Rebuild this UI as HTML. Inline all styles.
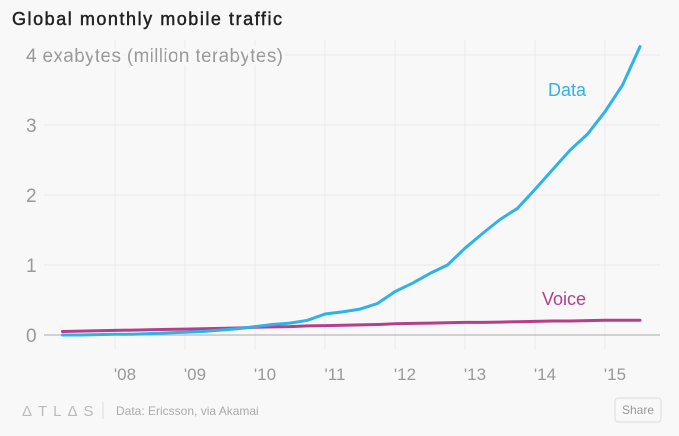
<!DOCTYPE html>
<html><head><meta charset="utf-8"><style>
body{margin:0;background:#f8f8f8;font-family:"Liberation Sans",sans-serif;}
#wrap{position:relative;width:679px;height:436px;overflow:hidden;background:#f8f8f8;}
</style></head><body>
<div id="wrap">
<svg id="chart" width="679" height="436">
<text x="12" y="25" font-size="18" fill="#222" stroke="#222" stroke-width="0.45" textLength="270">Global monthly mobile traffic</text>
<g id="grid"></g><g id="series"></g>
<text x="548" y="96" font-size="18" fill="#2fb2e8">Data</text>
<text x="542" y="305" font-size="18" fill="#b43f8a">Voice</text>
<g>
<text x="22" y="416" font-size="15" fill="#bbb" letter-spacing="6">ΔTLΔS</text>
<line x1="103" y1="402" x2="103" y2="419" stroke="#ddd"/>
<text x="116" y="415" font-size="12" fill="#aaa">Data: Ericsson, via Akamai</text>
<rect x="615" y="398" width="46" height="24" rx="3" fill="#f8f8f8" stroke="#ddd"/>
<text x="638" y="414" font-size="12" fill="#999" text-anchor="middle">Share</text>
</g>
</svg>
</div>
<script>
const yearTicks=[2008,2009,2010,2011,2012,2013,2014,2015];
const yearLabels=["'08","'09","'10","'11","'12","'13","'14","'15"];
const yTicks=[0,1,2,3,4];
const yLabels=["0","1","2","3","4 exabytes (million terabytes)"];
const dataValues=[0.0,0.0,0.005,0.01,0.01,0.02,0.03,0.04,0.05,0.07,0.09,0.12,0.15,0.17,0.21,0.30,0.33,0.37,0.45,0.62,0.74,0.88,1.0,1.24,1.45,1.65,1.81,2.08,2.36,2.64,2.87,3.19,3.57,4.12];
const voiceValues=[0.05,0.055,0.06,0.065,0.07,0.075,0.08,0.085,0.09,0.095,0.10,0.11,0.115,0.12,0.13,0.135,0.14,0.145,0.15,0.16,0.165,0.17,0.175,0.18,0.18,0.185,0.19,0.195,0.20,0.20,0.205,0.21,0.21,0.21];
const startYear=2007.25, stepYear=0.25;
const X=t=>45+70*(t-2007);
const Y=v=>335-70*v;
const NS="http://www.w3.org/2000/svg";
const grid=document.getElementById('grid'), ser=document.getElementById('series');
function mk(tag,attrs,parent){const e=document.createElementNS(NS,tag);for(const k in attrs)e.setAttribute(k,attrs[k]);parent.appendChild(e);return e;}
yearTicks.forEach((yr,i)=>{
  const l=mk('line',{x1:X(yr),x2:X(yr),y1:40,y2:350,stroke:'#ebebeb'},grid);
  
  
  const t=mk('text',{x:X(yr)+10,y:380,'font-size':17,fill:'#999','text-anchor':'middle'},grid);
  t.textContent=yearLabels[i];
  
  
});
yTicks.forEach((v,i)=>{
  if(v>0){const l=mk('line',{x1:44,x2:660,y1:Y(v),y2:Y(v),stroke:'#e8e8e8'},grid);
  
  }
  const attrs={x:26,y:Y(v)+7,'font-size':19,fill:'#999'};
  if(v===4)attrs.textLength=257;
  const t=mk('text',attrs,grid);
  if(v===4){t.setAttribute('paint-order','stroke');t.setAttribute('stroke','#f8f8f8');t.setAttribute('stroke-width','6');}
  t.textContent=yLabels[i];
  
  
});
const base=mk('line',{x1:44,x2:660,y1:Y(0),y2:Y(0),stroke:'#aaa'},grid);


function path(vals){return vals.map((v,i)=>(i?'L':'M')+X(startYear+i*stepYear).toFixed(1)+','+Y(v).toFixed(1)).join('');}
const pv=mk('path',{d:path(voiceValues),fill:'none',stroke:'#b43f8a','stroke-width':3,'stroke-linejoin':'round','stroke-linecap':'round'},ser);


const pd=mk('path',{d:path(dataValues),fill:'none',stroke:'#2fb2e8','stroke-width':3,'stroke-linejoin':'round','stroke-linecap':'round'},ser);


</script>
</body></html>
